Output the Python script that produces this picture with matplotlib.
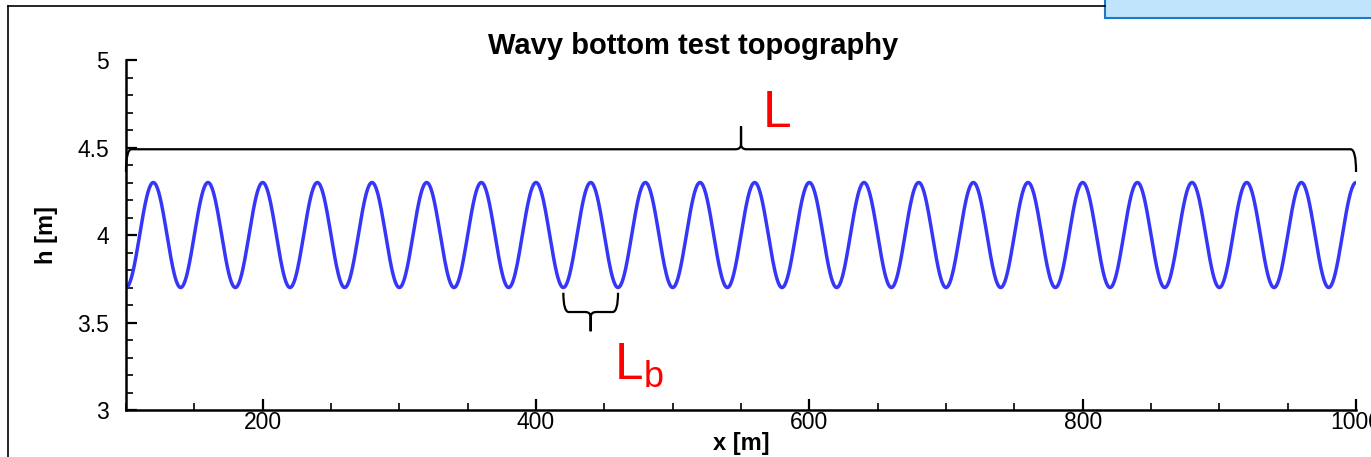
import numpy as np
import matplotlib.pyplot as plt
from matplotlib.path import Path
from matplotlib.patches import PathPatch, Rectangle
from matplotlib.ticker import MultipleLocator

plt.rcParams['font.family'] = ['Liberation Sans', 'DejaVu Sans']

# topography: mean depth, amplitude, bump wavelength
x_start, x_end = 100, 1000
h_mean = 4.0
h_amp = 0.3
wavelength = 40

x = np.linspace(x_start, x_end, 2000)
h = h_mean - h_amp * np.cos(2 * np.pi * (x - x_start) / wavelength)

# annotation spans
L_span = (100, 1000)
Lb_span = (420, 460)


def brace(ax, x0, x1, y, tip, end, rx, ry):
    xm = (x0 + x1) / 2
    sy = np.sign(tip - y)
    verts = [(x0, end), (x0, y), (x0 + rx, y),
             (xm - rx, y), (xm, y), (xm, y + sy * ry), (xm, tip),
             (xm, tip), (xm, y + sy * ry), (xm, y), (xm + rx, y),
             (x1 - rx, y), (x1, y), (x1, end)]
    codes = [Path.MOVETO, Path.CURVE3, Path.CURVE3,
             Path.LINETO, Path.CURVE3, Path.CURVE3, Path.LINETO,
             Path.MOVETO, Path.LINETO, Path.CURVE3, Path.CURVE3,
             Path.LINETO, Path.CURVE3, Path.CURVE3]
    ax.add_patch(PathPatch(Path(verts, codes), fill=False, lw=1.6,
                           color='black', clip_on=False))


fig = plt.figure(figsize=(13.71, 4.57), dpi=100)
ax = fig.add_axes([0.0919, 0.1028, 0.8972, 0.7659])

ax.plot(x, h, color='#3636f8', lw=2.5)

brace(ax, L_span[0], L_span[1], 4.49, 4.62, 4.36, 4, 0.03)
brace(ax, Lb_span[0], Lb_span[1], 3.56, 3.45, 3.67, 4, 0.03)
ax.text(566, 4.62, 'L', color='red', fontsize=37)
ax.text(457, 3.18, r'L$_\mathregular{b}$', color='red', fontsize=37)

ax.set_xlim(100, 1000)
ax.set_ylim(3, 5)
ax.set_xticks([200, 400, 600, 800, 1000])
ax.set_yticks([3, 3.5, 4, 4.5, 5])
ax.set_yticklabels(['3', '3.5', '4', '4.5', '5'])
ax.xaxis.set_minor_locator(MultipleLocator(50))
ax.yaxis.set_minor_locator(MultipleLocator(0.1))
ax.tick_params(which='major', direction='in', length=8, width=1.6, labelsize=16.5)
ax.tick_params(which='minor', direction='in', length=5, width=1.2)
ax.tick_params(axis='x', pad=1)
ax.tick_params(axis='y', pad=12)
for s in ['top', 'right']:
    ax.spines[s].set_visible(False)
for s in ['left', 'bottom']:
    ax.spines[s].set_linewidth(1.8)

ax.set_title('Wavy bottom test topography', fontsize=21, fontweight='bold',
             pad=3, x=0.461)
ax.set_xlabel('x [m]', fontsize=17, fontweight='bold', labelpad=-2)
ax.set_ylabel('h [m]', fontsize=17, fontweight='bold', labelpad=14)

# outer frame and the blue box poking in at the top right
fig.add_artist(plt.Line2D([0.0058, 0.0058], [0, 0.987], color='black', lw=1.2))
fig.add_artist(plt.Line2D([0.0058, 0.806], [0.987, 0.987], color='black', lw=1.2))
fig.add_artist(Rectangle((0.806, 0.96), 0.2, 0.06, facecolor='#bfe4fb',
                         edgecolor='#1a7ac8', lw=1.5))

fig.savefig('out.png', dpi=100)
